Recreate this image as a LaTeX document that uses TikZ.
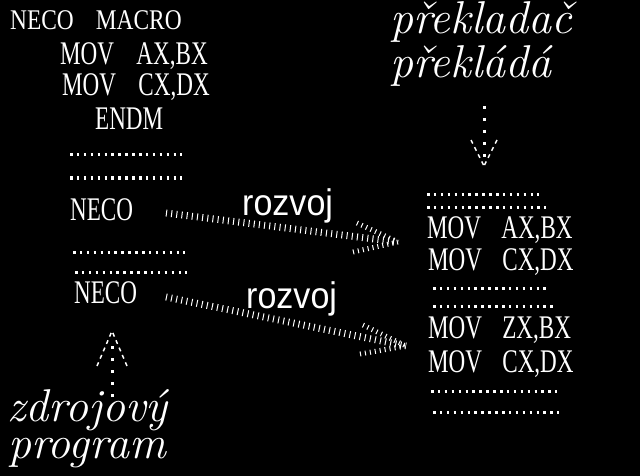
\documentclass[tikz,border=0pt]{standalone}
\usepackage{fontspec}
\newfontfamily\codefont{Liberation Serif}
\newfontfamily\rzfont{Liberation Sans}
\usepackage{graphicx}
\newcommand{\cs}[1]{\scalebox{0.70}[1]{#1}}
\newcommand{\csa}[1]{\scalebox{0.82}[1]{#1}}
\tikzset{
 code/.style={text=white, inner sep=0pt, anchor=base west, font=\codefont\fontsize{33}{33}\selectfont},
 codeb/.style={text=white, inner sep=0pt, anchor=base west, font=\codefont\fontsize{28.5}{28.5}\selectfont},
 ital/.style={text=white, inner sep=0pt, anchor=base west, font=\fontsize{46}{46}\selectfont\itshape},
 rz/.style={text=white, inner sep=0pt, anchor=base west, font=\rzfont\fontsize{37}{37}\selectfont},
 dotrow/.style={white, line width=3pt, dash pattern=on 2.5pt off 4.4pt},
 hatch/.style={white, line width=7pt, dash pattern=on 1pt off 4.2pt},
 barb/.style={white, line width=5pt, dash pattern=on 1pt off 4pt},
 vdots/.style={white, line width=3pt, dash pattern=on 3pt off 9pt},
 vbarb/.style={white, line width=1.5pt, dash pattern=on 4pt off 4pt},
}
\begin{document}
\begin{tikzpicture}[x=1pt,y=-1pt]
\fill[black] (0,0) rectangle (640,476);
\useasboundingbox (0,0) rectangle (640,476);
% left column
\node[codeb] (macro) at (10,30) {\csa{NECO\hspace{27pt}MACRO}};
\node[code] (l1) at (60,65) {\cs{MOV\hspace{32pt}AX,BX}};
\node[code] (l2) at (62,96) {\cs{MOV\hspace{32pt}CX,DX}};
\node[code] (endm) at (95,130) {\cs{ENDM}};
\draw[dotrow] (70,155) -- (182,155);
\draw[dotrow] (70,178) -- (182,178);
\node[code] (neco1) at (70,220) {\cs{NECO}};
\draw[dotrow] (73,252) -- (185,252);
\draw[dotrow] (75,272) -- (187,272);
\node[code] (neco2) at (74,303) {\cs{NECO}};
% right column
\node[ital] (prek1) at (390,34) {překladač};
\node[ital] (prek2) at (390,78) {překládá};
\draw[dotrow] (427,194) -- (539,194);
\draw[dotrow] (427,207) -- (546,207);
\node[code] (r1) at (427,238) {\cs{MOV\hspace{29pt}AX,BX}};
\node[code] (r2) at (428,270) {\cs{MOV\hspace{29pt}CX,DX}};
\draw[dotrow] (433,288) -- (546,288);
\draw[dotrow] (433,306) -- (553,306);
\node[code] (r3) at (428,338) {\cs{MOV\hspace{29pt}ZX,BX}};
\node[code] (r4) at (428,372) {\cs{MOV\hspace{29pt}CX,DX}};
\draw[dotrow] (431,391) -- (557,391);
\draw[dotrow] (433,412) -- (559,412);
% bottom left
\node[ital] (zdroj) at (7,421) {zdrojový};
\node[ital] (prog) at (8,458) {program};
% rozvoj labels
\node[rz] (rz1) at (242,215) {\scalebox{0.92}[1]{rozvoj}};
\node[rz] (rz2) at (246,308) {\scalebox{0.92}[1]{rozvoj}};
% hatched arrows
\coordinate (a1s) at (166,213);
\coordinate (a1e) at (398,242);
\coordinate (a1u) at (357,223);
\coordinate (a1d) at (353,252);
\draw[hatch] (a1s) -- (a1e);
\draw[barb] (a1u) -- (a1e);
\draw[barb] (a1d) -- (a1e);
\coordinate (a2s) at (166,297);
\coordinate (a2e) at (406,346);
\coordinate (a2u) at (363,325);
\coordinate (a2d) at (360,354);
\draw[hatch] (a2s) -- (a2e);
\draw[barb] (a2u) -- (a2e);
\draw[barb] (a2d) -- (a2e);
% down arrow (right)
\coordinate (dtop) at (484,106);
\coordinate (dtip) at (484,166);
\draw[vdots] (dtop) -- (484,158);
\draw[vbarb] (471,140) -- (dtip);
\draw[vbarb] (497,140) -- (dtip);
% up arrow (left)
\coordinate (utip) at (112,331);
\coordinate (ubot) at (112,397);
\draw[vdots] (ubot) -- (112,344);
\draw[vbarb] (97,366) -- (utip);
\draw[vbarb] (127,366) -- (utip);
\end{tikzpicture}
\end{document}
